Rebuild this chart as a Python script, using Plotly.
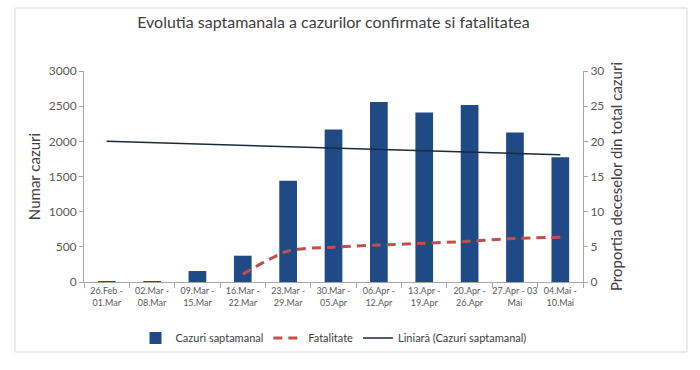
import plotly.graph_objects as go

categories = ["26.Feb -<br>01.Mar", "02.Mar -<br>08.Mar", "09.Mar -<br>15.Mar", "16.Mar -<br>22.Mar",
              "23.Mar -<br>29.Mar", "30.Mar -<br>05.Apr", "06.Apr -<br>12.Apr", "13.Apr -<br>19.Apr",
              "20.Apr -<br>26.Apr", "27.Apr - 03<br>Mai", "04.Mai -<br>10.Mai"]
cases = [12, 14, 156, 374, 1441, 2170, 2560, 2410, 2515, 2125, 1775]
fatality_cats = categories[3:]
fatality = [1.1, 4.4, 4.95, 5.25, 5.5, 5.8, 6.2, 6.35]
trend_cats = [categories[0], categories[-1]]
trend = [2000, 1810]

FONT = "Lato"
GRAY = "#595959"

fig = go.Figure()
fig.add_trace(go.Bar(x=categories, y=cases, name="Cazuri saptamanal",
                     marker=dict(color="#1F4A86", line=dict(width=0)), width=0.39))
fig.add_trace(go.Scatter(x=fatality_cats, y=fatality, name="Fatalitate", yaxis="y2",
                         mode="lines", line=dict(color="#C0504D", width=3, dash="9px,6px", shape="spline", smoothing=0.8)))
fig.add_trace(go.Scatter(x=trend_cats, y=trend, name="Liniară (Cazuri saptamanal)",
                         mode="lines", line=dict(color="#1C2A3A", width=1.5)))

L, R, T, B = 84, 583, 71, 282
W, H = 700, 370
pw, ph = R - L, B - T
def px(x): return (x - L) / pw
def py(y): return (B - y) / ph

fig.update_layout(
    width=W, height=H,
    margin=dict(l=L, r=W - R, t=T, b=H - B, autoexpand=False),
    paper_bgcolor="white", plot_bgcolor="white",
    font=dict(family=FONT, color=GRAY),
    title=dict(text="Evolutia saptamanala a cazurilor confirmate si fatalitatea",
               x=0.5, xref="paper", xanchor="center", y=1 - 22 / H, yanchor="middle",
               font=dict(family=FONT, size=16, color="#404040")),
    showlegend=True,
    legend=dict(orientation="h", x=0.5, xanchor="center", y=py(338), yanchor="middle",
                bgcolor="rgba(0,0,0,0)",
                font=dict(family=FONT, size=11, color="#404040"), traceorder="normal"),
    bargap=0.6,
    xaxis=dict(type="category", showline=True, linecolor="#A6A6A6", linewidth=1, automargin=False,
               ticks="outside", tickson="boundaries", ticklen=5, tickcolor="#A6A6A6", tickangle=0,
               tickfont=dict(size=9, color=GRAY), showgrid=False, zeroline=False),
    yaxis=dict(range=[0, 3000], tickvals=[0, 500, 1000, 1500, 2000, 2500, 3000], automargin=False,
               showline=True, linecolor="#A6A6A6", ticks="outside", ticklen=4, tickcolor="#A6A6A6",
               showgrid=False, zeroline=False, tickfont=dict(size=12, color=GRAY),
               title=dict(text="Numar cazuri", font=dict(size=15, color="#404040"), standoff=4)),
    yaxis2=dict(range=[0, 30], tickvals=[0, 5, 10, 15, 20, 25, 30], overlaying="y", side="right", automargin=False,
                showline=True, linecolor="#A6A6A6", ticks="outside", ticklen=4, tickcolor="#A6A6A6",
                showgrid=False, zeroline=False, tickfont=dict(size=12, color=GRAY),
                title=dict(text="Proportia deceselor din total cazuri", font=dict(size=15, color="#404040"), standoff=8)),
    shapes=[dict(type="rect", xref="paper", yref="paper", x0=px(15), x1=px(687), y0=py(352), y1=py(8),
                 line=dict(color="#D9D9D9", width=1), fillcolor="rgba(0,0,0,0)", layer="below")],
)

fig.write_html("out.html", config={"displayModeBar": False},
               post_script="document.body.style.margin='0';document.body.style.overflow='hidden';")
